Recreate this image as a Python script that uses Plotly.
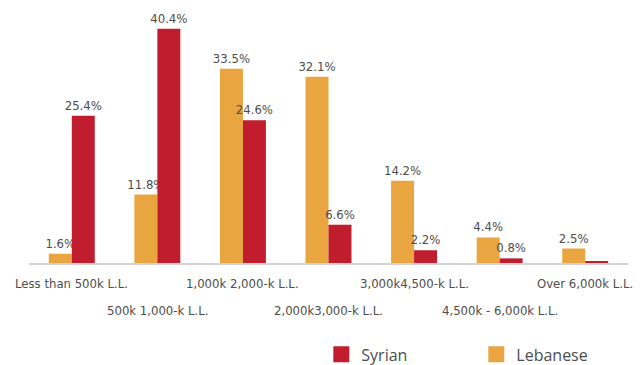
import plotly.graph_objects as go

# income brackets (x axis)
categories = [
    "Less than 500k L.L.",
    "500k 1,000-k L.L.",
    "1,000k 2,000-k L.L.",
    "2,000k3,000-k L.L.",
    "3,000k4,500-k L.L.",
    "4,500k - 6,000k L.L.",
    "Over 6,000k L.L.",
]
lebanese = [1.6, 11.8, 33.5, 32.1, 14.2, 4.4, 2.5]
syrian = [25.4, 40.4, 24.6, 6.6, 2.2, 0.8, 0.3]
syrian_labels = ["25.4%", "40.4%", "24.6%", "6.6%", "2.2%", "0.8%", ""]

colors = {"syrian": "#C01D2E", "lebanese": "#E8A540", "text": "#4d4d4d"}
label_font = "Liberation Sans Narrow, DejaVu Sans Condensed, sans-serif"

fig = go.Figure()
fig.add_trace(go.Bar(
    x=categories, y=lebanese, name="Lebanese", showlegend=False,
    marker_color=colors["lebanese"], marker_line_width=0,
    text=[f"{v}%" for v in lebanese], textposition="outside",
    textfont=dict(family=label_font, size=13, color=colors["text"]),
    constraintext="none", cliponaxis=False,
))
fig.add_trace(go.Bar(
    x=categories, y=syrian, name="Syrian", showlegend=False,
    marker_color=colors["syrian"], marker_line_width=0,
    text=syrian_labels, textposition="outside",
    textfont=dict(family=label_font, size=13, color=colors["text"]),
    constraintext="none", cliponaxis=False,
))

# legend entries with bigger square swatches
for name, key in [("Syrian", "syrian"), ("Lebanese", "lebanese")]:
    fig.add_trace(go.Scatter(
        x=[None], y=[None], mode="markers", name=name,
        marker=dict(symbol="square", size=16, color=colors[key]),
    ))

# category labels, alternating in two rows
for i, cat in enumerate(categories):
    fig.add_annotation(
        x=cat, xref="x", y=0, yref="paper",
        text=cat, showarrow=False, yanchor="middle",
        yshift=-20 if i % 2 == 0 else -47,
        font=dict(family=label_font, size=13, color=colors["text"]),
    )

fig.update_layout(
    width=640, height=365,
    margin=dict(l=29, r=12, t=2, b=102, autoexpand=False),
    plot_bgcolor="white", paper_bgcolor="white",
    barmode="group", bargap=0.463, bargroupgap=0,
    showlegend=True,
    legend=dict(
        orientation="h", x=0.488, y=-0.35, xanchor="left", yanchor="middle",
        entrywidth=110,
        font=dict(family="Open Sans, sans-serif", size=16, color=colors["text"]),
    ),
    xaxis=dict(showticklabels=False, showline=True, linecolor="#d3d3d3",
               linewidth=2, ticks="", showgrid=False, range=[-0.5, 6.5]),
    yaxis=dict(visible=False, range=[0, 45], showgrid=False),
)

# drop the default page margin so the figure sits at the window corner
fig.write_html("out.html", config={"displayModeBar": False},
               post_script="document.body.style.margin = '0';")
